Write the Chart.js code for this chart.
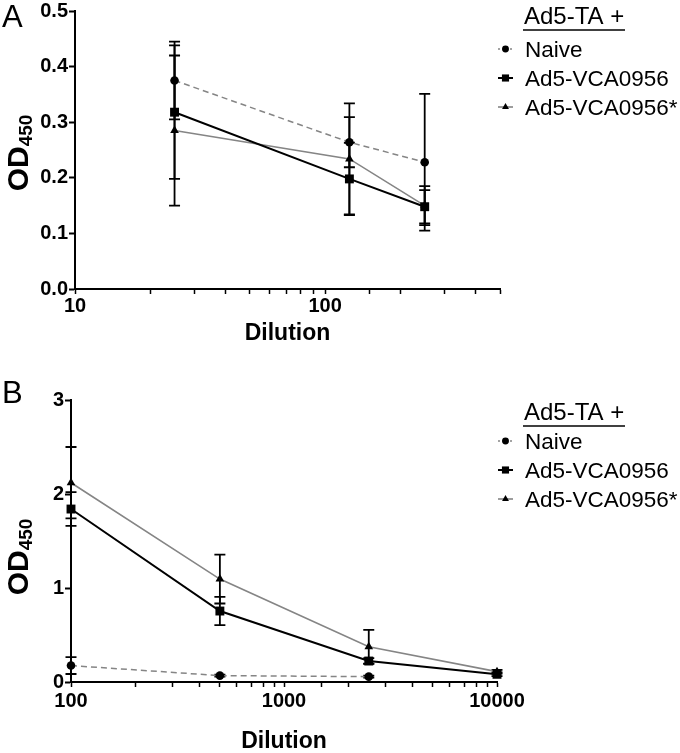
<!DOCTYPE html>
<html>
<head>
<meta charset="utf-8">
<script src="https://cdn.jsdelivr.net/npm/chart.js@4.4.1/dist/chart.umd.min.js"></script>
<style>
    html, body { margin: 0; padding: 0; background: #fff; }
    canvas { position: absolute; left: 0; }
    #chartA { top: 0; }
    #chartB { top: 365px; }
</style>
</head>
<body>
<canvas id="chartA" width="680" height="365"></canvas>
<canvas id="chartB" width="680" height="388"></canvas>
<script>
// Panel A
const dilutionA = [25, 125, 250];
const naiveA = [0.375, 0.264, 0.228];
const naiveErrA = [0.07, 0.045, 0.123];
const vcaA = [0.318, 0.198, 0.148];
const vcaErrA = [0.12, 0.065, 0.03];
const vcaStarA = [0.285, 0.234, 0.15];
const vcaStarErrA = [0.135, 0.1, 0.035];
const xTicksA = [10, 100];

// Panel B
const dilutionB = [100, 500, 2500, 10000];
const naiveB = [0.175, 0.068, 0.057];
const naiveErrB = [0.09, 0.01, 0.01];
const vcaB = [1.84, 0.755, 0.223, 0.082];
const vcaErrB = [0.18, 0.15, 0.03, 0.02];
const vcaStarB = [2.12, 1.095, 0.375, 0.11];
const vcaStarErrB = [0.38, 0.26, 0.18, 0.02];
const xTicksB = [100, 1000, 10000];

const seriesNames = ['Naive', 'Ad5-VCA0956', 'Ad5-VCA0956*'];
const legendTitle = 'Ad5-TA +';

const FONT = "'Liberation Sans', Arial, sans-serif";

// стили серий
const seriesStyles = [
    { borderColor: '#858585', borderWidth: 1.5, borderDash: [6, 4], pointStyle: 'circle', pointRadius: 4.3 },
    { borderColor: '#000000', borderWidth: 2, borderDash: [], pointStyle: 'rect', pointRadius: 6.3 },
    { borderColor: '#858585', borderWidth: 1.6, borderDash: [], pointStyle: 'triangle', pointRadius: 5 }
];

function points(xs, ys) {
    return ys.map((y, i) => ({ x: xs[i], y: y }));
}

function makeDatasets(xs, series, errors) {
    return series.map((ys, k) => ({
        label: seriesNames[k],
        data: points(xs, ys),
        errors: errors[k],
        borderColor: seriesStyles[k].borderColor,
        borderWidth: seriesStyles[k].borderWidth,
        borderDash: seriesStyles[k].borderDash,
        pointStyle: seriesStyles[k].pointStyle,
        pointRadius: seriesStyles[k].pointRadius,
        pointHoverRadius: seriesStyles[k].pointRadius,
        pointBackgroundColor: '#000',
        pointBorderWidth: 0,
        fill: false,
        tension: 0,
        clip: false
    }));
}

// планки погрешностей
const errorBars = {
    id: 'errorBars',
    beforeDatasetsDraw(chart) {
        const ctx = chart.ctx;
        const xs = chart.scales.x, ys = chart.scales.y;
        ctx.save();
        ctx.strokeStyle = '#000';
        ctx.lineWidth = 1.8;
        chart.data.datasets.forEach(ds => {
            ds.data.forEach((p, i) => {
                const e = ds.errors[i];
                const px = xs.getPixelForValue(p.x);
                const top = ys.getPixelForValue(p.y + e);
                const bot = ys.getPixelForValue(p.y - e);
                ctx.beginPath();
                ctx.moveTo(px, top); ctx.lineTo(px, bot);
                ctx.moveTo(px - 5.5, top); ctx.lineTo(px + 5.5, top);
                ctx.moveTo(px - 5.5, bot); ctx.lineTo(px + 5.5, bot);
                ctx.stroke();
            });
        });
        ctx.restore();
    }
};

// буква панели, подпись OD450 и легенда
const decor = {
    id: 'decor',
    afterDraw(chart, args, opts) {
        const ctx = chart.ctx;
        ctx.save();
        ctx.fillStyle = '#000';

        ctx.font = '31px ' + FONT;
        ctx.textBaseline = 'alphabetic';
        ctx.textAlign = 'left';
        ctx.fillText(opts.letter, 2, opts.letterY);

        // OD с индексом 450
        ctx.save();
        ctx.translate(opts.odX, opts.odY);
        ctx.rotate(-Math.PI / 2);
        ctx.font = 'bold 30px ' + FONT;
        const w1 = ctx.measureText('OD').width;
        ctx.font = 'bold 19px ' + FONT;
        const w2 = ctx.measureText('450').width;
        const x0 = -(w1 + w2) / 2;
        ctx.font = 'bold 30px ' + FONT;
        ctx.fillText('OD', x0, 11);
        ctx.font = 'bold 19px ' + FONT;
        ctx.fillText('450', x0 + w1, 15);
        ctx.restore();

        // легенда
        const lx = 523;
        ctx.font = '24px ' + FONT;
        ctx.fillText(legendTitle, lx + 1, opts.titleY);
        ctx.lineWidth = 1.5;
        ctx.strokeStyle = '#000';
        ctx.beginPath();
        ctx.moveTo(lx, opts.titleY + 6);
        ctx.lineTo(lx + 102, opts.titleY + 6);
        ctx.stroke();

        chart.data.datasets.forEach((ds, k) => {
            const by = opts.itemY[k];
            const cy = by - 8;
            ctx.save();
            ctx.strokeStyle = ds.borderColor;
            ctx.lineWidth = ds.borderWidth;
            ctx.setLineDash(ds.borderDash.length ? [2, 2] : []);
            ctx.beginPath();
            ctx.moveTo(498, cy);
            ctx.lineTo(513, cy);
            ctx.stroke();
            ctx.restore();
            ctx.fillStyle = '#000';
            Chart.helpers.drawPoint(ctx, {
                pointStyle: ds.pointStyle,
                radius: ds.pointRadius * 0.8,
                rotation: 0,
                borderWidth: 0
            }, 505.5, cy);
            ctx.fillStyle = '#000';
            ctx.font = '22.5px ' + FONT;
            ctx.fillText(ds.label, lx + 2, by);
        });
        ctx.restore();
    }
};

function makeChart(id, cfg) {
    return new Chart(document.getElementById(id).getContext('2d'), {
        type: 'line',
        data: { datasets: makeDatasets(cfg.xs, cfg.series, cfg.errors) },
        plugins: [errorBars, decor],
        options: {
            responsive: false,
            animation: false,
            layout: { padding: { left: 0, top: cfg.top, right: cfg.right, bottom: 0 } },
            plugins: {
                legend: { display: false },
                tooltip: { enabled: false },
                decor: cfg.decor
            },
            scales: {
                x: {
                    type: 'logarithmic',
                    min: cfg.xMin,
                    max: cfg.xMax,
                    border: { color: '#000', width: 2 },
                    grid: { drawOnChartArea: false, tickLength: 5, tickColor: '#000', tickWidth: 1.5 },
                    ticks: {
                        autoSkip: false,
                        maxRotation: 0,
                        padding: cfg.xPad,
                        color: '#000',
                        font: { family: FONT, size: 20, weight: 'bold', lineHeight: 1 },
                        callback: v => cfg.xTicks.includes(v) ? String(v) : ''
                    },
                    title: {
                        display: true,
                        text: 'Dilution',
                        color: '#000',
                        font: { family: FONT, size: 23, weight: 'bold', lineHeight: 1 },
                        padding: { top: 0, bottom: cfg.titlePad }
                    },
                    afterFit: s => { s.height = cfg.xHeight; }
                },
                y: {
                    min: 0,
                    max: cfg.yMax,
                    border: { color: '#000', width: 2 },
                    grid: { drawOnChartArea: false, tickLength: 6, tickColor: '#000', tickWidth: 2 },
                    ticks: {
                        stepSize: cfg.yStep,
                        padding: 1,
                        color: '#000',
                        font: { family: FONT, size: 20, weight: 'bold', lineHeight: 1 },
                        callback: cfg.yFormat
                    },
                    afterFit: s => { s.width = cfg.yWidth; }
                }
            }
        }
    });
}

makeChart('chartA', {
    xs: dilutionA,
    series: [naiveA, vcaA, vcaStarA],
    errors: [naiveErrA, vcaErrA, vcaStarErrA],
    xMin: 10, xMax: 500, xTicks: xTicksA, xPad: 2,
    yMax: 0.5, yStep: 0.1, yFormat: v => v.toFixed(1),
    top: 9, right: 180, yWidth: 75, xHeight: 76, titlePad: 20,
    decor: { letter: 'A', letterY: 27, odX: 17, odY: 153, titleY: 24, itemY: [57, 86, 115] }
});

makeChart('chartB', {
    xs: dilutionB,
    series: [naiveB, vcaB, vcaStarB],
    errors: [naiveErrB, vcaErrB, vcaStarErrB],
    xMin: 100, xMax: 10000, xTicks: xTicksB, xPad: 4,
    yMax: 3, yStep: 1, yFormat: v => String(v),
    top: 35, right: 183, yWidth: 71, xHeight: 71, titlePad: 0,
    decor: { letter: 'B', letterY: 38, odX: 17, odY: 192, titleY: 55, itemY: [84, 113, 142] }
});
</script>
</body>
</html>
